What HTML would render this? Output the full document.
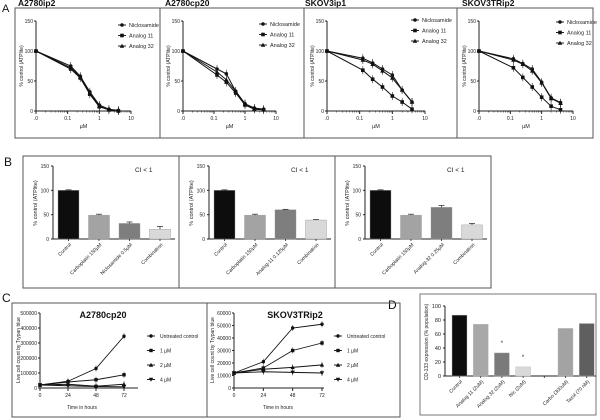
<!DOCTYPE html>
<html><head><meta charset="utf-8">
<style>
html,body{margin:0;padding:0;background:#fff;}
svg{display:block;font-family:"Liberation Sans",Arial,sans-serif;}
</style></head>
<body>
<svg id="fig" width="600" height="420" viewBox="0 0 600 420" xmlns="http://www.w3.org/2000/svg">
<g id="root"></g>
</svg>
<script>
// ===== Panel A data (dose-response) =====
const aDoses = [0.01, 0.125, 0.25, 0.5, 1, 2, 4];
const aSeriesNames = ["Niclosamide", "Analog 11", "Analog 32"];
const aYTicks = [0, 50, 100, 150];
const aXTickLabels = [".0", "0.1", "1", "10"];
const a1Nic = [100, 75, 58, 32, 10, 3, 1];
const a1A11 = [100, 70, 55, 28, 7, 2, 0];
const a1A32 = [100, 72, 57, 30, 8, 2, 1];
const a2Nic = [100, 70, 62, 33, 12, 5, 3];
const a2A11 = [100, 60, 48, 30, 10, 3, 2];
const a2A32 = [100, 65, 52, 33, 12, 4, 2];
const a3Nic = [100, 88, 80, 70, 60, 35, 15];
const a3A11 = [100, 68, 53, 40, 25, 15, 3];
const a3A32 = [100, 85, 78, 67, 55, 35, 15];
const a4Nic = [100, 87, 79, 70, 48, 22, 14];
const a4A11 = [100, 72, 56, 40, 23, 8, 2];
const a4A32 = [100, 85, 78, 67, 47, 21, 13];
const aTitles = ["A2780ip2", "A2780cp20", "SKOV3ip1", "SKOV3TRip2"];

// ===== Panel B data (combination bars) =====
const bYTicks = [0, 50, 100, 150];
const b1Labels = ["Control", "Carboplatin 150µM", "Niclosamide 0.5µM", "Combination"];
const b2Labels = ["Control", "Carboplatin 150µM", "Analog-11 0.125µM", "Combination"];
const b3Labels = ["Control", "Carboplatin 150µM", "Analog-32 0.25µM", "Combination"];
const b1Values = [100, 49, 32, 20];
const b2Values = [100, 49, 60, 39];
const b3Values = [100, 49, 65, 29];
const b1Err = [1, 2, 3, 6];
const b2Err = [1, 2, 1, 1];
const b3Err = [1, 2, 4, 3];

// ===== Panel C data (growth) =====
const cTimes = [0, 24, 48, 72];
const cSeriesNames = ["Untreated control", "1 µM", "2 µM", "4 µM"];
const c1Untreated = [20000, 45000, 130000, 345000];
const c1Dose1 = [20000, 40000, 55000, 88000];
const c1Dose2 = [20000, 25000, 12000, 25000];
const c1Dose4 = [20000, 15000, 10000, 8000];
const c1YTicks = [0, 100000, 200000, 300000, 400000, 500000];
const c2Untreated = [12000, 21000, 48000, 51000];
const c2Dose1 = [12000, 16000, 30000, 36000];
const c2Dose2 = [12000, 15000, 16500, 18500];
const c2Dose4 = [12000, 13000, 12500, 12000];
const c2YTicks = [0, 10000, 20000, 30000, 40000, 50000, 60000];

// ===== Panel D data (CD-133) =====
const dLabels = ["Control", "Analog 11 (2uM)", "Analog 32 (2uM)", "Nic (2uM)", "", "Carbo (300uM)", "Taxol (70 nM)"];
const dValues = [87, 74, 33, 13, null, 68, 75];
const dYTicks = [0, 20, 40, 60, 80, 100];

const NS = "http://www.w3.org/2000/svg";
const root = document.getElementById("root");
function el(tag, attrs, parent, text) {
  const e = document.createElementNS(NS, tag);
  for (const k in attrs) e.setAttribute(k, attrs[k]);
  if (text !== undefined) e.textContent = text;
  (parent || root).appendChild(e);
  return e;
}
function grp(name, parent) {
  const g = el("g", {}, parent);
  
  
  return g;
}
function txt(name, x, y, s, size, parent, opts) {
  opts = opts || {};
  const t = el("text", {x: x, y: y, "font-size": size, fill: opts.fill || "#222",
    "text-anchor": opts.anchor || "start", "font-weight": opts.bold ? "bold" : "normal"}, parent, s);
  if (opts.rot !== undefined) t.setAttribute("transform", `rotate(${opts.rot} ${x} ${y})`);
  
  
  return t;
}
function line(x1, y1, x2, y2, parent, w, c) {
  return el("line", {x1, y1, x2, y2, stroke: c || "#222", "stroke-width": w || 1}, parent);
}
function marker(kind, x, y, parent, s) {
  s = s || 2.3;
  let m;
  if (kind === 0) m = el("circle", {cx: x, cy: y, r: s, fill: "#111"}, parent);
  else if (kind === 1) m = el("rect", {x: x - s, y: y - s, width: 2 * s, height: 2 * s, fill: "#111"}, parent);
  else if (kind === 2) m = el("polygon", {points: `${x},${y - s - 0.5} ${x + s + 0.5},${y + s} ${x - s - 0.5},${y + s}`, fill: "#111"}, parent);
  else m = el("polygon", {points: `${x},${y - s - 0.5} ${x + s + 0.5},${y + s} ${x - s - 0.5},${y + s}`, fill: "#111", transform: `rotate(180 ${x} ${y})`}, parent);
  
  
  return m;
}

// ===== Panel letters & frames =====
txt("panel-label-a", 2, 12, "A", 11, root, {fill: "#111"});
txt("panel-label-b", 4, 166, "B", 12, root, {fill: "#111"});
txt("panel-label-c", 2, 302, "C", 12, root, {fill: "#111"});
txt("panel-label-d", 388, 309, "D", 12, root, {fill: "#111"});

const frameA = el("rect", {x: 15, y: 8, width: 578, height: 130, fill: "none", stroke: "#555", "stroke-width": 1});
 
[160, 304, 457].forEach(x => line(x, 8, x, 138, root, 1, "#555"));
const frameB = el("rect", {x: 23, y: 156, width: 468, height: 132, fill: "none", stroke: "#555", "stroke-width": 1});
 
[179, 335].forEach(x => line(x, 156, x, 288, root, 1, "#555"));
const frameC = el("rect", {x: 12, y: 303, width: 388, height: 114, fill: "none", stroke: "#555", "stroke-width": 1});
 
line(207, 303, 207, 417, root, 1, "#555");
const frameD = el("rect", {x: 420, y: 294, width: 176, height: 121, fill: "none", stroke: "#777", "stroke-width": 1});
 

// ===== Panel A plots =====
const aPlots = [
  {x0: 36, x10: 131, titleX: 18, legX: 122, legY: 25, series: [a1Nic, a1A11, a1A32]},
  {x0: 183, x10: 276, titleX: 165, legX: 263, legY: 24, series: [a2Nic, a2A11, a2A32]},
  {x0: 327, x10: 425, titleX: 305, legX: 415, legY: 20, series: [a3Nic, a3A11, a3A32]},
  {x0: 479, x10: 573, titleX: 462, legX: 560, legY: 22, series: [a4Nic, a4A11, a4A32]}
];
aPlots.forEach((p, i) => {
  const g = grp("dose-response-plot-" + (i + 1));
  const yB = 111, yT = 21;
  const dec = (p.x10 - p.x0) / 3;
  const xs = d => p.x0 + (Math.log10(d) + 2) * dec;
  const ys = v => yB - (v / 150) * (yB - yT);
  txt("plot-title", p.titleX, 6, aTitles[i], 8.5, g, {bold: true, fill: "#111"});
  line(p.x0, yT, p.x0, yB, g, 1);
  line(p.x0, yB, p.x10, yB, g, 1);
  aYTicks.forEach(t => {
    line(p.x0 - 2, ys(t), p.x0, ys(t), g, 1);
    txt("y-tick-label", p.x0 - 3, ys(t) + 2, String(t), 5, g, {anchor: "end"});
  });
  for (let d = -2; d <= 1; d++) {
    line(xs(Math.pow(10, d)), yB, xs(Math.pow(10, d)), yB + 3, g, 1);
    txt("x-tick-label", xs(Math.pow(10, d)), yB + 9, aXTickLabels[d + 2], 5, g, {anchor: "middle"});
    if (d < 1) for (let k = 2; k < 10; k++) line(xs(k * Math.pow(10, d)), yB, xs(k * Math.pow(10, d)), yB + 1.5, g, 0.6);
  }
  txt("x-axis-title", (p.x0 + p.x10) / 2, 128, "µM", 5.5, g, {anchor: "middle"});
  txt("y-axis-title", p.x0 - 13, 66, "% control (ATPlite)", 5, g, {anchor: "middle", rot: -90});
  p.series.forEach((s, si) => {
    const sg = grp("series-" + aSeriesNames[si].toLowerCase().replace(/ /g, "-"), g);
    const pts = aDoses.map((d, j) => `${xs(d)},${ys(s[j])}`).join(" ");
    el("polyline", {points: pts, fill: "none", stroke: "#111", "stroke-width": 1}, sg);
    aDoses.forEach((d, j) => {
      line(xs(d), ys(s[j]) - 4, xs(d), ys(s[j]) + 4, sg, 0.6);
      marker(si, xs(d), ys(s[j]), sg, 1.8);
    });
    const ly = p.legY + si * 10.5;
    const lg = grp("legend-entry", g);
    line(p.legX - 4, ly, p.legX + 4, ly, lg, 1);
    marker(si, p.legX, ly, lg, 1.8);
    txt("legend-label", p.legX + 7, ly + 2, aSeriesNames[si], 5.5, lg);
  });
});

// ===== Panel B plots =====
const bColors = ["#0d0d0d", "#a3a3a3", "#7e7e7e", "#d9d9d9"];
const bPlots = [
  {left: 23, vals: b1Values, err: b1Err, labels: b1Labels},
  {left: 179, vals: b2Values, err: b2Err, labels: b2Labels},
  {left: 335, vals: b3Values, err: b3Err, labels: b3Labels}
];
bPlots.forEach((p, i) => {
  const g = grp("combination-bar-chart-" + (i + 1));
  const ax = p.left + 30, yB = 239, yT = 166;
  const ys = v => yB - (v / 150) * (yB - yT);
  const bx = j => ax + 5 + j * 30.5;
  line(ax, yT, ax, yB, g, 1);
  line(ax, yB, ax + 122, yB, g, 1);
  bYTicks.forEach(t => {
    line(ax - 2, ys(t), ax, ys(t), g, 1);
    txt("y-tick-label", ax - 4, ys(t) + 2, String(t), 5, g, {anchor: "end"});
  });
  txt("y-axis-title", p.left + 14, 203, "% control (ATPlite)", 5.5, g, {anchor: "middle", rot: -90});
  txt("ci-annotation", p.left + 112, 172, "CI < 1", 6.5, g);
  p.vals.forEach((v, j) => {
    const r = el("rect", {x: bx(j), y: ys(v), width: 21, height: yB - ys(v), fill: bColors[j], stroke: "#999", "stroke-width": 0.4}, g);
    
    
    const cx = bx(j) + 10.5;
    line(cx, ys(v + p.err[j]), cx, ys(v), g, 0.7);
    line(cx - 3, ys(v + p.err[j]), cx + 3, ys(v + p.err[j]), g, 0.7);
    line(cx, yB, cx, yB + 2, g, 0.8);
    txt("x-tick-label", cx + 3, yB + 6, p.labels[j], 5, g, {anchor: "end", rot: -45});
  });
});

// ===== Panel C plots =====
const cPlots = [
  {ax: 40, xEnd: 124, axisEnd: 138, yT: 313, yMax: 500000, ticks: c1YTicks, title: "A2780cp20", titleX: 103, legX: 151, series: [c1Untreated, c1Dose1, c1Dose2, c1Dose4]},
  {ax: 234, xEnd: 322, axisEnd: 324, yT: 313, yMax: 60000, ticks: c2YTicks, title: "SKOV3TRip2", titleX: 295, legX: 338, series: [c2Untreated, c2Dose1, c2Dose2, c2Dose4]}
];
cPlots.forEach((p, i) => {
  const g = grp("growth-plot-" + (i + 1));
  const yB = 388;
  const xs = t => p.ax + (t / 72) * (p.xEnd - p.ax);
  const ys = v => yB - (v / p.yMax) * (yB - p.yT);
  txt("plot-title", p.titleX, 318, p.title, 9, g, {anchor: "middle", bold: true, fill: "#111"});
  line(p.ax, p.yT, p.ax, yB + 2, g, 1);
  line(p.ax, yB, p.axisEnd, yB, g, 1);
  p.ticks.forEach(t => {
    line(p.ax - 2, ys(t), p.ax, ys(t), g, 1);
    txt("y-tick-label", p.ax - 3, ys(t) + 2, String(t), 5, g, {anchor: "end"});
  });
  cTimes.forEach(t => {
    line(xs(t), yB, xs(t), yB + 3, g, 1);
    txt("x-tick-label", xs(t), yB + 9, String(t), 5, g, {anchor: "middle"});
  });
  txt("x-axis-title", (p.ax + p.xEnd) / 2, 409, "Time in hours", 5, g, {anchor: "middle"});
  txt("y-axis-title", p.ax - 20, 350, "Live cell count by Trypan blue", 5, g, {anchor: "middle", rot: -90});
  p.series.forEach((s, si) => {
    const sg = grp("series-" + cSeriesNames[si].toLowerCase().replace(/[^a-z0-9]+/g, "-"), g);
    el("polyline", {points: cTimes.map((t, j) => `${xs(t)},${ys(s[j])}`).join(" "), fill: "none", stroke: "#111", "stroke-width": 0.9}, sg);
    cTimes.forEach((t, j) => {
      line(xs(t), ys(s[j]) - 3, xs(t), ys(s[j]) + 3, sg, 0.5);
      marker(si === 0 ? 0 : si === 1 ? 1 : si === 2 ? 2 : 3, xs(t), ys(s[j]), sg, 1.7);
    });
    const ly = 336 + si * 14.5;
    const lg = grp("legend-entry", g);
    line(p.legX - 4, ly, p.legX + 4, ly, lg, 1);
    marker(si, p.legX, ly, lg, 1.7);
    txt("legend-label", p.legX + 9, ly + 2, cSeriesNames[si], 5, lg);
  });
});

// ===== Panel D =====
(function () {
  const g = grp("cd133-bar-chart");
  const ax = 445, yB = 376, yT = 306;
  const ys = v => yB - (v / 100) * (yB - yT);
  const bx = j => ax + 7 + j * 21.2;
  const dColors = ["#0d0d0d", "#a8a8a8", "#7a7a7a", "#d9d9d9", "#fff", "#a3a3a3", "#5f5f5f"];
  line(ax, yT, ax, yB, g, 1);
  line(ax, yB, 596, yB, g, 1);
  dYTicks.forEach(t => {
    line(ax - 2, ys(t), ax, ys(t), g, 1);
    txt("y-tick-label", ax - 4, ys(t) + 2, String(t), 5.5, g, {anchor: "end"});
  });
  txt("y-axis-title", 428, 342, "CD-133 expression (% population)", 5, g, {anchor: "middle", rot: -90});
  dValues.forEach((v, j) => {
    const cx = bx(j) + 7.5;
    line(cx, yB, cx, yB + 2, g, 0.8);
    if (dLabels[j]) txt("x-tick-label", cx + 3, yB + 6, dLabels[j], 5, g, {anchor: "end", rot: -45});
    if (v === null) return;
    const r = el("rect", {x: bx(j), y: ys(v), width: 15, height: yB - ys(v), fill: dColors[j], stroke: "#bbb", "stroke-width": 0.4}, g);
    
    
    if (j === 2 || j === 3) txt("significance-star", cx, ys(v) - 8, "*", 6, g, {anchor: "middle"});
  });
})();
</script>
</body></html>
